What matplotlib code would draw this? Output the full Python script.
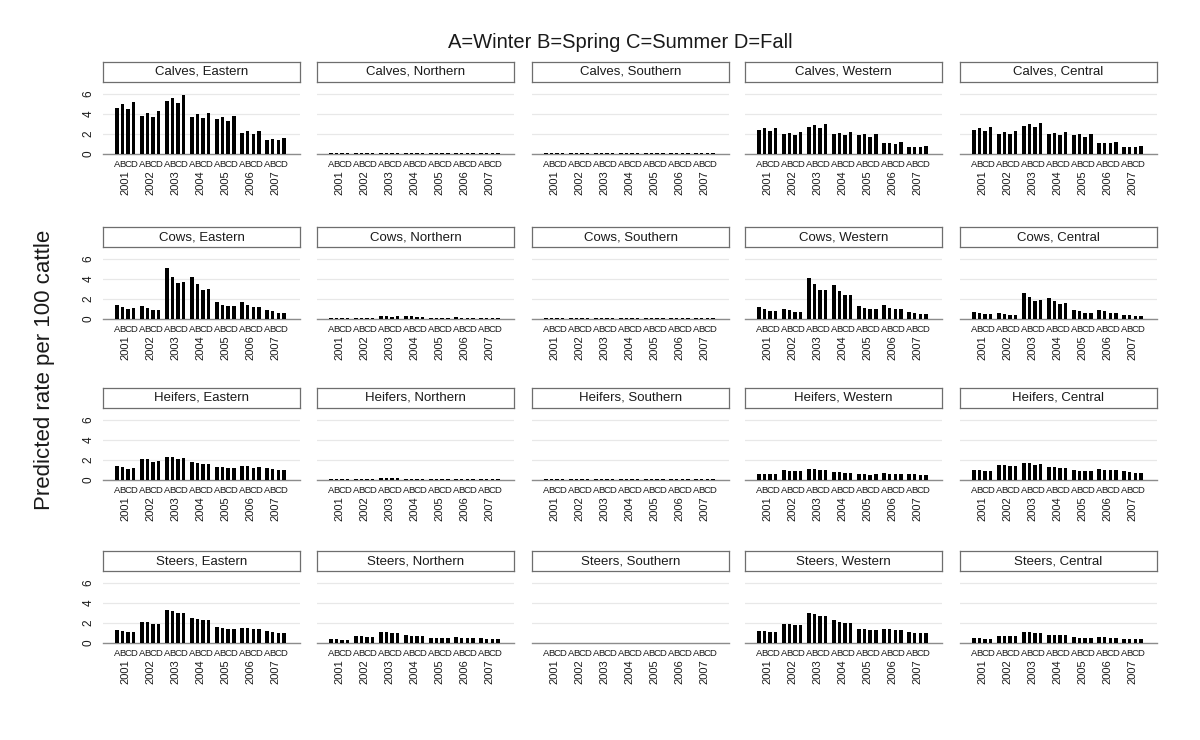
import matplotlib
matplotlib.use("Agg")
import matplotlib.pyplot as plt

plt.rcParams['font.family'] = ['Liberation Sans', 'DejaVu Sans']

years = ["2001", "2002", "2003", "2004", "2005", "2006", "2007"]
seasons = ["A", "B", "C", "D"]
cattle_types = ["Calves", "Cows", "Heifers", "Steers"]
regions = ["Eastern", "Northern", "Southern", "Western", "Central"]

# values per panel: 7 years x 4 seasons (A, B, C, D)
calves_eastern = [[4.64, 4.97, 4.47, 5.19], [3.83, 4.07, 3.69, 4.27], [5.32, 5.63, 5.08, 5.86],
                  [3.69, 3.97, 3.59, 4.14], [3.49, 3.69, 3.32, 3.83], [2.14, 2.27, 2.00, 2.30],
                  [1.42, 1.53, 1.39, 1.56]]
calves_northern = [[0.06, 0.06, 0.06, 0.06]] * 7
calves_southern = [[0.11, 0.11, 0.10, 0.10], [0.10, 0.10, 0.09, 0.09], [0.15, 0.15, 0.14, 0.14],
                   [0.10, 0.10, 0.09, 0.09], [0.11, 0.11, 0.10, 0.10], [0.07, 0.07, 0.06, 0.06],
                   [0.07, 0.07, 0.06, 0.06]]
calves_western = [[2.41, 2.58, 2.31, 2.64], [2.03, 2.14, 1.93, 2.20], [2.75, 2.95, 2.64, 3.05],
                  [1.97, 2.07, 1.86, 2.17], [1.90, 1.97, 1.73, 2.03], [1.12, 1.15, 1.05, 1.25],
                  [0.75, 0.75, 0.71, 0.81]]
calves_central = [[2.44, 2.61, 2.34, 2.68], [2.00, 2.17, 1.97, 2.27], [2.78, 2.98, 2.68, 3.08],
                  [2.03, 2.14, 1.86, 2.17], [1.90, 1.97, 1.73, 2.00], [1.15, 1.15, 1.08, 1.22],
                  [0.71, 0.75, 0.71, 0.81]]

cows_eastern = [[1.42, 1.22, 0.98, 1.05], [1.25, 1.08, 0.92, 0.92], [5.08, 4.24, 3.56, 3.69],
                [4.20, 3.49, 2.92, 3.02], [1.66, 1.42, 1.25, 1.25], [1.69, 1.39, 1.19, 1.22],
                [0.92, 0.78, 0.64, 0.64]]
cows_northern = [[0.12, 0.10, 0.09, 0.09], [0.11, 0.09, 0.08, 0.08], [0.32, 0.28, 0.24, 0.25],
                 [0.30, 0.26, 0.22, 0.22], [0.14, 0.12, 0.10, 0.10], [0.15, 0.13, 0.11, 0.11],
                 [0.08, 0.07, 0.06, 0.06]]
cows_southern = [[0.05, 0.05, 0.05, 0.05]] * 7
cows_western = [[1.19, 0.98, 0.81, 0.81], [1.02, 0.85, 0.71, 0.71], [4.07, 3.46, 2.88, 2.92],
                [3.36, 2.81, 2.37, 2.44], [1.32, 1.12, 0.98, 0.98], [1.36, 1.12, 0.98, 0.98],
                [0.71, 0.61, 0.51, 0.51]]
cows_central = [[0.71, 0.61, 0.51, 0.51], [0.64, 0.54, 0.44, 0.44], [2.58, 2.20, 1.80, 1.93],
                [2.14, 1.80, 1.49, 1.56], [0.88, 0.75, 0.61, 0.61], [0.88, 0.75, 0.61, 0.61],
                [0.44, 0.37, 0.31, 0.31]]

heifers_eastern = [[1.41, 1.31, 1.14, 1.21], [2.08, 2.08, 1.81, 1.88], [2.35, 2.35, 2.11, 2.18],
                   [1.78, 1.74, 1.58, 1.61], [1.31, 1.31, 1.17, 1.17], [1.41, 1.41, 1.24, 1.27],
                   [1.17, 1.14, 1.00, 1.04]]
heifers_northern = [[0.09, 0.09, 0.08, 0.08], [0.14, 0.14, 0.12, 0.12], [0.20, 0.19, 0.17, 0.17],
                    [0.12, 0.12, 0.10, 0.10], [0.09, 0.09, 0.08, 0.08], [0.09, 0.09, 0.08, 0.08],
                    [0.10, 0.10, 0.09, 0.09]]
heifers_southern = [[0.06, 0.06, 0.06, 0.06]] * 7
heifers_western = [[0.64, 0.64, 0.57, 0.60], [0.97, 0.94, 0.87, 0.87], [1.10, 1.07, 0.97, 0.97],
                   [0.84, 0.81, 0.74, 0.74], [0.60, 0.60, 0.54, 0.57], [0.67, 0.64, 0.60, 0.60],
                   [0.57, 0.57, 0.50, 0.50]]
heifers_central = [[0.97, 0.97, 0.87, 0.91], [1.51, 1.47, 1.37, 1.44], [1.74, 1.68, 1.54, 1.58],
                   [1.34, 1.31, 1.21, 1.21], [0.97, 0.94, 0.87, 0.87], [1.07, 1.04, 0.97, 0.97],
                   [0.87, 0.84, 0.74, 0.74]]

steers_eastern = [[1.31, 1.24, 1.14, 1.14], [2.15, 2.08, 1.92, 1.92], [3.26, 3.19, 2.96, 2.96],
                  [2.49, 2.42, 2.28, 2.28], [1.58, 1.51, 1.44, 1.44], [1.55, 1.51, 1.44, 1.44],
                  [1.18, 1.14, 1.04, 1.04]]
steers_northern = [[0.38, 0.38, 0.34, 0.34], [0.72, 0.68, 0.65, 0.65], [1.06, 1.06, 0.99, 0.99],
                   [0.78, 0.75, 0.68, 0.68], [0.55, 0.51, 0.48, 0.48], [0.58, 0.55, 0.51, 0.51],
                   [0.48, 0.44, 0.41, 0.41]]
steers_southern = [[0.05, 0.05, 0.05, 0.05]] * 7
steers_western = [[1.18, 1.18, 1.11, 1.11], [1.95, 1.88, 1.78, 1.78], [2.99, 2.86, 2.72, 2.72],
                  [2.28, 2.15, 2.05, 2.05], [1.44, 1.41, 1.34, 1.34], [1.41, 1.38, 1.31, 1.31],
                  [1.07, 1.04, 0.97, 0.97]]
steers_central = [[0.47, 0.47, 0.44, 0.44], [0.74, 0.74, 0.67, 0.67], [1.11, 1.07, 0.97, 0.97],
                  [0.84, 0.81, 0.77, 0.77], [0.57, 0.54, 0.50, 0.50], [0.60, 0.57, 0.50, 0.50],
                  [0.44, 0.40, 0.40, 0.40]]

panel_data = [
    [calves_eastern, calves_northern, calves_southern, calves_western, calves_central],
    [cows_eastern, cows_northern, cows_southern, cows_western, cows_central],
    [heifers_eastern, heifers_northern, heifers_southern, heifers_western, heifers_central],
    [steers_eastern, steers_northern, steers_southern, steers_western, steers_central],
]

W, H = 1200, 740
fig = plt.figure(figsize=(W / 100, H / 100), dpi=100)
fig.patch.set_facecolor("white")

col_left = [103, 317, 532, 745, 960]
panel_w = 197
strip_top = [62, 227, 388, 551]
strip_h = 20
plot_h = 72

group_gap = 4.5
bar_w = 0.62

grid_color = "#e8e8e8"
axis_color = "#8c8c8c"

for r, ctype in enumerate(cattle_types):
    for c, reg in enumerate(regions):
        x0 = col_left[c]
        st = strip_top[r]
        pt = st + strip_h
        # plot
        ax = fig.add_axes([x0 / W, 1 - (pt + plot_h) / H, panel_w / W, plot_h / H])
        ax.patch.set_visible(False)
        vals = panel_data[r][c]
        xs, hs, labs = [], [], []
        for g, yr in enumerate(years):
            for b, s in enumerate(seasons):
                xs.append(g * group_gap + b)
                hs.append(vals[g][b])
                labs.append(s)
        ax.bar(xs, hs, width=bar_w, color="black", edgecolor="none", zorder=3)
        ax.set_xlim(-2.5, 6 * group_gap + 3 + 2.9)
        ax.set_ylim(0, 7.2)
        ax.set_yticks([0, 2, 4, 6])
        ax.yaxis.grid(True, color=grid_color, linewidth=0.9, zorder=0)
        ax.set_axisbelow(True)
        for side in ["top", "right", "left"]:
            ax.spines[side].set_visible(False)
        ax.spines["bottom"].set_color(axis_color)
        ax.spines["bottom"].set_linewidth(1.0)
        ax.set_xticks(xs)
        ax.set_xticklabels(labs, fontsize=6.8, color="#1a1a1a")
        ax.tick_params(axis="x", length=0, pad=4)
        if c == 0:
            ax.set_yticklabels(["0", "2", "4", "6"], rotation=90, va="center",
                               fontsize=8.5, color="#1a1a1a")
            ax.tick_params(axis="y", length=0, pad=6)
        else:
            ax.set_yticklabels([])
            ax.tick_params(axis="y", length=0)
        # year labels
        for g, yr in enumerate(years):
            ax.annotate(yr, xy=(g * group_gap + 1.5, 0), xycoords="data",
                        xytext=(0, -12), textcoords="offset points",
                        rotation=90, ha="center", va="top", fontsize=8.0,
                        color="#1a1a1a", annotation_clip=False)
        # strip
        sax = fig.add_axes([x0 / W, 1 - (st + strip_h) / H, panel_w / W, strip_h / H])
        sax.set_xticks([]); sax.set_yticks([])
        sax.set_facecolor("white")
        for s in sax.spines.values():
            s.set_color("#6e6e6e"); s.set_linewidth(0.9)
        sax.text(0.5, 0.5, f"{ctype}, {reg}", ha="center", va="center",
                 fontsize=9.5, transform=sax.transAxes, color="#1a1a1a")

fig.text(620 / W, 1 - 42 / H, "A=Winter B=Spring C=Summer D=Fall", ha="center",
         va="center", fontsize=14.5, color="#1a1a1a")
fig.text(45 / W, 1 - 370 / H, "Predicted rate per 100 cattle", ha="center",
         va="center", rotation=90, fontsize=16, color="#1a1a1a")

fig.savefig("out.png", dpi=100, facecolor="white")
